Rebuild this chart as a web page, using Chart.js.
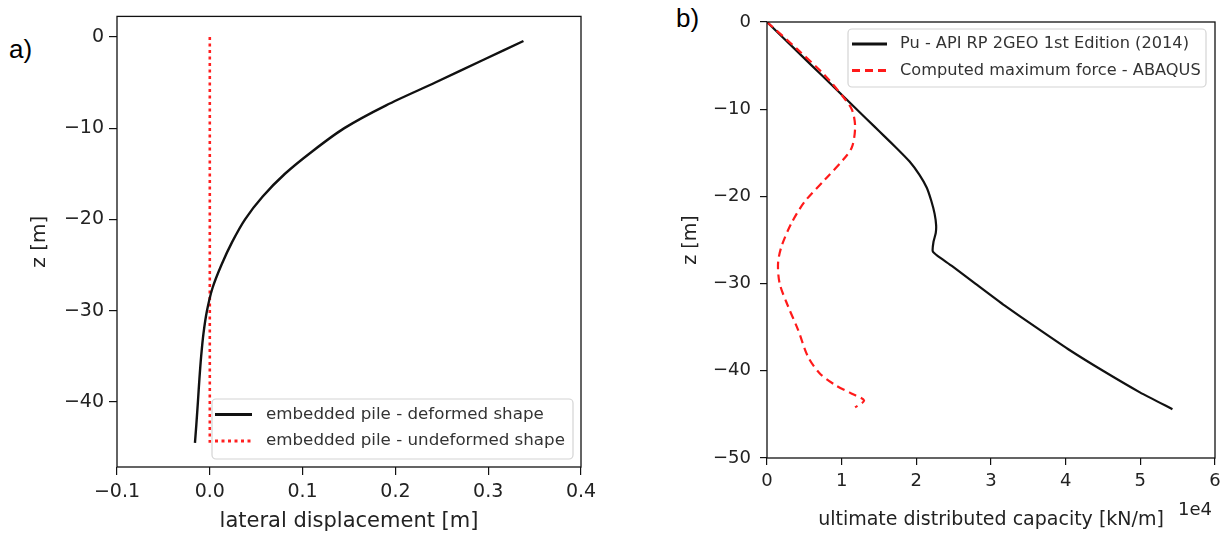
<!DOCTYPE html>
<html>
<head>
<meta charset="utf-8">
<script src="https://cdn.jsdelivr.net/npm/chart.js@4.4.0/dist/chart.umd.min.js"></script>
<style>
  body { margin: 0; background: #fff; width: 1230px; height: 534px; position: relative; overflow: hidden; }
  .box { position: absolute; top: 0; height: 534px; }
  #boxLeft { left: 0; width: 620px; }
  #boxRight { left: 620px; width: 610px; }
  .tag { position: absolute; font-family: "Liberation Sans", Arial, sans-serif; font-size: 26px; line-height: 26px; color: #000; }
  .offset { position: absolute; right: 18px; top: 500px; font-family: "DejaVu Sans", sans-serif; font-size: 18px; line-height: 18px; color: #222; }
</style>
</head>
<body>
<div class="tag" style="left:9px; top:36px;">a)</div>
<div class="tag" style="left:676px; top:5px;">b)</div>
<div class="box" id="boxLeft"><canvas id="leftChart" width="620" height="534"></canvas></div>
<div class="box" id="boxRight"><canvas id="rightChart" width="610" height="534"></canvas></div>
<div class="offset">1e4</div>

<script>
// a) pile shape
const pileDepth = [-0.45, -2.5, -5, -7.5, -10, -12.5, -15, -17.5, -20, -22.5, -25, -27.5, -30, -32.5, -35, -37.5, -40, -42.5, -44.5];
const pileDisp = [0.338, 0.295, 0.243, 0.19, 0.145, 0.111, 0.081, 0.057, 0.038, 0.024, 0.0125, 0.003, -0.003, -0.0068, -0.0093, -0.0112, -0.0128, -0.0145, -0.016];
const straightDepth = [0, -44.5];
const straightDisp = [0, 0];

const leftXTicks = [-0.1, 0, 0.1, 0.2, 0.3, 0.4];
const leftYTicks = [0, -10, -20, -30, -40];

// b) capacity (x 1e4 kN/m)
const puDepth = [0, -2, -4, -6, -8, -10, -12, -13, -14.5, -16, -17.5, -19, -20.5, -22, -23.3, -24.2, -25.2, -26.3, -26.8, -28, -30, -32.5, -35, -37.5, -40, -42.5, -44.4];
const puValue = [0, 0.24, 0.48, 0.72, 0.96, 1.2, 1.44, 1.56, 1.74, 1.91, 2.04, 2.14, 2.2, 2.245, 2.265, 2.26, 2.23, 2.22, 2.28, 2.48, 2.79, 3.18, 3.6, 4.03, 4.5, 5.0, 5.43];
const abqDepth = [0, -3.2, -6.1, -8.8, -10.1, -12, -14.3, -15.6, -18.1, -20.6, -23.1, -25.8, -27.7, -30, -32.6, -35.3, -38.4, -40.3, -41.6, -42.6, -43.4, -44.2];
const abqValue = [0, 0.416, 0.773, 1.04, 1.14, 1.18, 1.14, 1.04, 0.773, 0.505, 0.326, 0.192, 0.148, 0.17, 0.282, 0.416, 0.55, 0.707, 0.907, 1.13, 1.3, 1.18];

const rightXTicks = [0, 1, 2, 3, 4, 5, 6];
const rightYTicks = [0, -10, -20, -30, -40, -50];

const toPoints = (xs, ys) => xs.map((x, i) => ({ x: x, y: ys[i] }));
const minus = (s) => String(s).replace("-", "\u2212");

// box around the plot area + legend inside it
const framePlugin = {
  id: "frame",
  afterDatasetsDraw(chart) {
    const a = chart.chartArea;
    const ctx = chart.ctx;
    ctx.save();
    ctx.strokeStyle = "#111";
    ctx.lineWidth = 1.3;
    ctx.strokeRect(a.left, a.top, a.right - a.left, a.bottom - a.top);
    ctx.restore();
  },
  afterDraw(chart, args, opts) {
    if (!opts.items) return;
    const ctx = chart.ctx;
    ctx.save();
    ctx.beginPath();
    ctx.roundRect(opts.x, opts.y, opts.w, opts.h, 4);
    ctx.fillStyle = "rgba(255,255,255,0.85)";
    ctx.fill();
    ctx.strokeStyle = "#d4d4d4";
    ctx.lineWidth = 1.2;
    ctx.stroke();
    ctx.font = opts.fontSize + "px 'DejaVu Sans'";
    ctx.textBaseline = "middle";
    opts.items.forEach((idx, i) => {
      const ds = chart.data.datasets[idx];
      const rowY = opts.rowY[i];
      ctx.beginPath();
      ctx.setLineDash(ds.borderDash || []);
      ctx.strokeStyle = ds.borderColor;
      ctx.lineWidth = ds.borderWidth + 0.6;
      ctx.moveTo(opts.handleX[0], rowY);
      ctx.lineTo(opts.handleX[1], rowY);
      ctx.stroke();
      ctx.setLineDash([]);
      ctx.fillStyle = "#333";
      ctx.fillText(ds.label, opts.textX, rowY);
    });
    ctx.restore();
  },
};

function axisBase(tickList, fmt, size) {
  return {
    type: "linear",
    afterBuildTicks: (scale) => {
      scale.ticks = tickList.map((v) => ({ value: v }));
    },
    grid: { drawOnChartArea: false, drawTicks: true, color: "#111", tickColor: "#111", lineWidth: 1.2 },
    border: { display: false },
    ticks: {
      autoSkip: false,
      maxRotation: 0,
      color: "#222",
      font: { family: "DejaVu Sans", size: size },
      callback: fmt,
    },
  };
}

// a)
const leftX = axisBase(leftXTicks, (v) => minus(v.toFixed(1)), 19);
leftX.min = -0.1;
leftX.max = 0.4;
leftX.grid.tickLength = 8;
leftX.ticks.padding = 6;
leftX.title = { display: true, text: "lateral displacement [m]", color: "#222", font: { family: "DejaVu Sans", size: 21 }, padding: { top: 0, bottom: 0 } };
leftX.afterFit = (scale) => { scale.height = 67; };

const leftY = axisBase(leftYTicks, (v) => minus(v), 19);
leftY.min = -47.15;
leftY.max = 2.25;
leftY.grid.tickLength = 8;
leftY.ticks.padding = 5;
leftY.title = { display: true, text: "z [m]", color: "#222", font: { family: "DejaVu Sans", size: 20 }, padding: { top: 28, bottom: 0 } };
leftY.afterFit = (scale) => { scale.width = 117; };

new Chart(document.getElementById("leftChart"), {
  type: "scatter",
  data: {
    datasets: [
      {
        label: "embedded pile - deformed shape",
        data: toPoints(pileDisp, pileDepth),
        showLine: true,
        borderColor: "#111",
        borderWidth: 2.4,
        pointRadius: 0,
        tension: 0.3,
      },
      {
        label: "embedded pile - undeformed shape",
        data: toPoints(straightDisp, straightDepth),
        showLine: true,
        borderColor: "#ff2020",
        borderWidth: 2.6,
        borderDash: [3, 3.5],
        pointRadius: 0,
      },
    ],
  },
  options: {
    responsive: false,
    animation: false,
    layout: { padding: { left: 0, top: 13, right: 39, bottom: 0 } },
    scales: { x: leftX, y: leftY },
    plugins: {
      legend: { display: false },
      tooltip: { enabled: false },
      frame: { items: [0, 1], x: 212, y: 399, w: 361, h: 60, rowY: [414.5, 441], handleX: [215, 252], textX: 266, fontSize: 16.7 },
    },
  },
  plugins: [framePlugin],
});

// b)
const rightX = axisBase(rightXTicks, (v) => minus(v), 18);
rightX.min = 0;
rightX.max = 6;
rightX.grid.tickLength = 7;
rightX.ticks.padding = 6;
rightX.title = { display: true, text: "ultimate distributed capacity [kN/m]", color: "#222", font: { family: "DejaVu Sans", size: 19 }, padding: { top: 0, bottom: 3 } };
rightX.afterFit = (scale) => { scale.height = 76; };

const rightY = axisBase(rightYTicks, (v) => minus(v), 18);
rightY.min = -50;
rightY.max = 0;
rightY.grid.tickLength = 7;
rightY.ticks.padding = 9;
rightY.title = { display: true, text: "z [m]", color: "#222", font: { family: "DejaVu Sans", size: 19 }, padding: { top: 60, bottom: 0 } };
rightY.afterFit = (scale) => { scale.width = 147; };

new Chart(document.getElementById("rightChart"), {
  type: "scatter",
  data: {
    datasets: [
      {
        label: "Computed maximum force - ABAQUS",
        data: toPoints(abqValue, abqDepth),
        showLine: true,
        borderColor: "#ff1a1a",
        borderWidth: 2.2,
        borderDash: [8, 5],
        pointRadius: 0,
        tension: 0.3,
      },
      {
        label: "Pu - API RP 2GEO 1st Edition (2014)",
        data: toPoints(puValue, puDepth),
        showLine: true,
        borderColor: "#111",
        borderWidth: 2.2,
        pointRadius: 0,
        tension: 0.15,
      },
    ],
  },
  options: {
    responsive: false,
    animation: false,
    layout: { padding: { left: 0, top: 22, right: 15, bottom: 0 } },
    scales: { x: rightX, y: rightY },
    plugins: {
      legend: { display: false },
      tooltip: { enabled: false },
      frame: { items: [1, 0], x: 228, y: 29, w: 358, h: 58, rowY: [44, 70.5], handleX: [232, 267], textX: 280, fontSize: 16.2 },
    },
  },
  plugins: [framePlugin],
});
</script>
</body>
</html>
